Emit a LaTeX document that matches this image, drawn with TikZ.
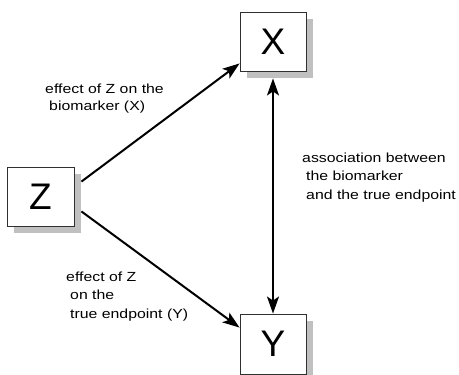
\documentclass[tikz,border=0pt]{standalone}
\usepackage{fontspec}
\setmainfont{Liberation Sans}
\newfontfamily\lblfont{Liberation Sans}[FakeStretch=1.2]
\usetikzlibrary{arrows.meta,shadows}
\definecolor{shadowgray}{HTML}{C0C0C0}
\definecolor{edgegray}{HTML}{303030}
\tikzset{
  varbox/.style={draw=edgegray, line width=0.9pt, fill=white, inner sep=0pt,
    minimum width=66pt, minimum height=59pt,
    font=\fontsize{37}{40}\selectfont,
    drop shadow={fill=shadowgray, opacity=1, shadow xshift=7pt, shadow yshift=-7pt}},
  tip/.style={Stealth[length=17pt, width=12pt, inset=4pt]},
  conn/.style={line width=2pt, -{Stealth[length=17pt, width=12pt, inset=4pt]}},
  biconn/.style={line width=2pt, {Stealth[length=17pt, width=12pt, inset=4pt]}-{Stealth[length=17pt, width=12pt, inset=4pt]}},
  lbl/.style={anchor=base west, align=left, inner sep=0pt,
    font=\lblfont\fontsize{13.2}{18}\selectfont}
}
\begin{document}
\begin{tikzpicture}[x=1pt, y=-1pt]
\useasboundingbox (0,0) rectangle (459,375);
\node[varbox] (X) at (273,41.5) {X};
\node[varbox, minimum width=67pt] (Z) at (40.5,196.5) {Z};
\node[varbox, minimum height=60pt] (Y) at (273,344) {Y};
\draw[conn] ([shift={(7,15)}]Z.north east) -- ([shift={(0,-8)}]X.south west);
\draw[conn] ([shift={(7,-15)}]Z.south east) -- ([shift={(0,14)}]Y.north west);
\draw[biconn] ([shift={(0,7)}]X.south) -- (Y.north);
\node[lbl, font=\lblfont\fontsize{13.2}{17}\selectfont] (lz) at (45,110) {effect of Z on the\\\hspace*{4pt}biomarker (X)};
\node[lbl, font=\lblfont\fontsize{13.2}{18.5}\selectfont] (la) at (302,199) {association between\\\hspace*{4pt}the biomarker\\\hspace*{4pt}and the true endpoint};
\node[lbl, font=\lblfont\fontsize{13.2}{18.5}\selectfont] (ly) at (66,318) {effect of Z\\\hspace*{4pt}on the\\\hspace*{4pt}true endpoint (Y)};
\end{tikzpicture}
\end{document}
